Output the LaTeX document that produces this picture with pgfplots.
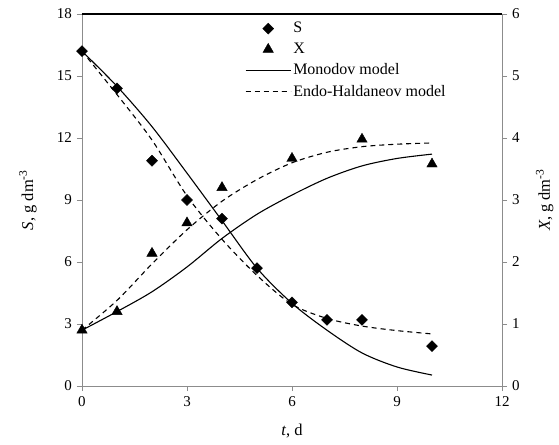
\documentclass[border=0pt]{standalone}
\usepackage{fontspec}
\setmainfont{Liberation Serif}
\usepackage{pgfplots}
\pgfplotsset{compat=1.18}
\definecolor{axgray}{RGB}{140,140,140}
\begin{document}
\fontsize{15}{18}\selectfont
\begin{tikzpicture}
\useasboundingbox (-82pt,-58pt) rectangle (477pt,386pt);
\pgfplotsset{
  common/.style={
    width=420pt, height=372pt, scale only axis,
    xmin=0, xmax=12,
    axis line style={-, draw=axgray, line width=0.9pt},
    tick align=outside, major tick length=5pt,
    tick style={axgray, line width=0.9pt},
    /pgf/number format/assume math mode=true,
    ticklabel style={font=\fontsize{15}{18}\selectfont},
    label style={font=\fontsize{16.5}{19}\selectfont},
    clip=false,
  },
  lgd/.style={legend image code/.code={\draw[mark repeat=2,mark phase=2,##1] plot coordinates {(0pt,0pt)(22.5pt,0pt)(45pt,0pt)};}},
}
\begin{axis}[common,
  ymin=0, ymax=18,
  xtick={0,3,...,12}, ytick={0,3,...,18},
  axis x line*=bottom, axis y line*=left,
  xlabel={\textit{t}, d},
  ylabel={\textit{S}, g dm\textsuperscript{-3}},
  xlabel style={yshift=-8pt},
  ylabel style={yshift=10pt},
]
\addplot[only marks, mark=diamond*, mark size=5.5pt, mark options={xscale=1.33}, black]
  coordinates {(0,16.2)(1,14.4)(2,10.9)(3,9.0)(4,8.1)(5,5.7)(6,4.05)(7,3.2)(8,3.2)(10,1.93)};
\addplot[black, line width=1.1pt, smooth, no marks]
  coordinates {(0,16.2)(1,14.5)(2,12.55)(3,10.3)(4,8.0)(5,5.7)(6,4.0)(7,2.7)(8,1.6)(9,0.92)(10,0.53)};
\addplot[black, line width=1.1pt, dash pattern=on 5pt off 4pt, smooth, no marks]
  coordinates {(0,16.2)(1,14.1)(2,11.9)(3,9.2)(4,7.1)(5,5.35)(6,3.95)(7,3.27)(8,2.9)(9,2.68)(10,2.52)};
\end{axis}
\begin{axis}[common,
  ymin=0, ymax=6,
  ytick={0,1,...,6},
  axis y line*=right, axis x line=none,
  ylabel={\textit{X}, g dm\textsuperscript{-3}},
  ylabel style={yshift=-6pt},
  legend style={at={(0.388,0.984)}, anchor=north west, draw=none, fill=none,
    inner sep=0pt, row sep=4pt, font=\fontsize{16}{19}\selectfont,
    cells={anchor=west}},
]
\draw[black, line width=1.3pt] (rel axis cs:0,1) -- (rel axis cs:1,1);
\addlegendimage{only marks, mark=diamond*, mark size=5.5pt, mark options={xscale=1.33}, black, lgd}
\addlegendentry{S}
\addplot[only marks, mark=triangle*, mark size=6pt, black, lgd]
  coordinates {(0,0.9)(1,1.2)(2,2.14)(3,2.63)(4,3.2)(6,3.67)(8,3.98)(10,3.58)};
\addlegendentry{X}
\addplot[black, line width=1.1pt, smooth, no marks, lgd]
  coordinates {(0,0.9)(1,1.2)(2,1.52)(3,1.92)(4,2.38)(5,2.77)(6,3.08)(7,3.35)(8,3.55)(9,3.67)(10,3.74)};
\addlegendentry{Monodov model}
\addplot[black, line width=1.1pt, dash pattern=on 5pt off 4pt, smooth, no marks, lgd]
  coordinates {(0,0.9)(1,1.38)(2,1.97)(3,2.52)(4,2.98)(5,3.33)(6,3.6)(7,3.77)(8,3.86)(9,3.9)(10,3.92)};
\addlegendentry{Endo-Haldaneov model}
\end{axis}
\end{tikzpicture}
\end{document}
